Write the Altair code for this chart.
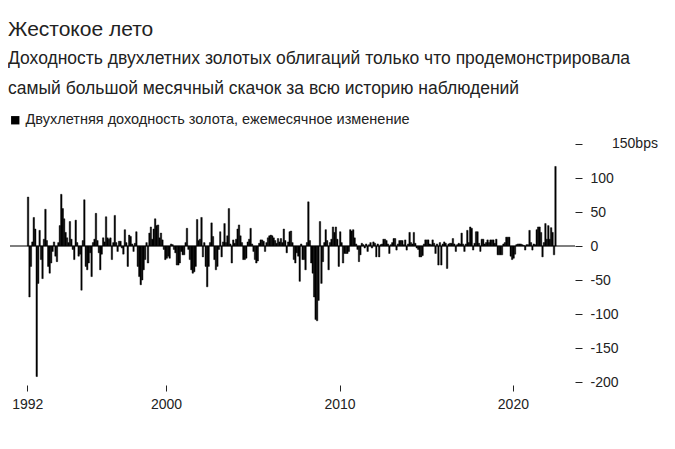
import altair as alt
import pandas as pd

title_text = "Жестокое лето"
subtitle_lines = [
    "Доходность двухлетних золотых облигаций только что продемонстрировала",
    "самый большой месячный скачок за всю историю наблюдений",
]
series_name = "Двухлетняя доходность золота, ежемесячное изменение"

# Monthly change, bps, one list per year
v1992 = [72, -75, -30, 6, 42, 25, -192, -55, 23, -20, -48, 10]
v1993 = [54, 8, -30, -40, -25, -8, 6, -15, -23, 5, 30, 76]
v1994 = [55, 40, 20, 12, 5, 36, 10, -5, -20, 38, 5, -15]
v1995 = [-12, -65, 8, 68, -30, -35, -25, -10, -45, 5, 10, 48]
v1996 = [8, -10, -35, -12, 12, 6, 43, 12, 10, 12, -20, 5]
v1997 = [45, 5, -8, 7, 7, -3, -12, 24, 5, -30, 16, 14]
v1998 = [3, -8, 4, 21, -30, -45, -57, -50, -35, -20, 5, -25]
v1999 = [19, 28, 10, 25, 40, 30, 31, 12, 19, 9, -5, -20]
v2000 = [-18, -15, -18, 3, 2, -5, -10, -28, -28, -25, -8, -13]
v2001 = [-13, 5, 26, -5, -20, -35, -40, -38, -30, 39, 8, 10]
v2002 = [42, -16, 5, -30, -60, -30, 5, 34, 14, -20, -35, -30]
v2003 = [-5, 21, -16, 6, 33, 5, 15, 55, 3, -25, 9, 4]
v2004 = [10, 25, 31, 15, 5, -20, -20, -18, 6, 10, 26, 3]
v2005 = [-8, -20, -25, -22, 4, 9, 9, 7, -8, 5, 12, 15]
v2006 = [16, 15, 12, 8, 4, 11, 6, 11, 5, 25, 8, -10]
v2007 = [6, 21, 22, 5, -20, -25, -10, -15, -52, 3, -20, -20]
v2008 = [-35, 5, 65, 8, -25, -40, -75, -108, -110, -80, 36, -55]
v2009 = [-23, 5, 24, 8, -35, 5, 10, 28, 20, 28, 10, -30]
v2010 = [21, 5, -25, -11, -11, -11, -8, 24, 22, 24, 12, 3]
v2011 = [-5, -23, -13, 4, 2, -3, 3, -8, 2, 5, -3, 6]
v2012 = [4, -16, 3, -16, 2, 3, 10, 10, 8, 3, -11, 2]
v2013 = [5, 11, 11, -6, 3, 8, 8, 8, 2, 9, -6, 3]
v2014 = [20, 5, 3, 20, 4, -3, -5, -16, -16, -14, 3, 9]
v2015 = [9, 9, 3, 2, 9, 4, -11, 3, -28, 5, -28, 3]
v2016 = [6, 4, -33, 3, 4, 4, 11, 3, -8, 2, 4, 3]
v2017 = [19, 3, -8, 3, 23, 5, 28, 26, -6, 4, 21, 21]
v2018 = [4, -8, 10, 10, 3, 5, 9, 5, 9, 9, 9, 4]
v2019 = [10, -13, -13, -13, -13, 3, 5, 13, 13, 13, -15, -20]
v2020 = [-18, -12, 2, 3, 3, 3, 2, 1, -6, 2, 2, 23]
v2021 = [5, -6, 3, 2, 24, 28, 28, 20, -16, 5, 33, 10]
v2022 = [30, 10, 27, 20, -13, 117]

yearly = [v1992, v1993, v1994, v1995, v1996, v1997, v1998, v1999, v2000, v2001,
          v2002, v2003, v2004, v2005, v2006, v2007, v2008, v2009, v2010, v2011,
          v2012, v2013, v2014, v2015, v2016, v2017, v2018, v2019, v2020, v2021, v2022]

y_ticks = [-200, -150, -100, -50, 0, 50, 100, 150]
x_tick_years = [1992, 2000, 2010, 2020]

rows = []
for i, vals in enumerate(yearly):
    yr = 1992 + i
    for m, v in enumerate(vals):
        ny, nm = (yr, m + 2) if m < 11 else (yr + 1, 1)
        rows.append({"start": f"{yr}-{m + 1:02d}-01", "end": f"{ny}-{nm:02d}-01",
                     "value": v, "series": series_name})
df = pd.DataFrame(rows)

FONT = "Liberation Sans, Arial, sans-serif"
W, H = 565, 238

xscale = alt.Scale(domain=[alt.DateTime(year=1991, month=1, date=1),
                           alt.DateTime(year=2023, month=8, date=1)])
yscale = alt.Scale(domain=[-200, 150])

yaxis = alt.Axis(orient="right", values=y_ticks, domain=False, grid=False,
                 tickSize=7, tickColor="#222", labelPadding=8, labelAlign="left",
                 labelFontSize=14, labelColor="#222", labelFont=FONT,
                 labelOverlap=False, labelBound=False, title=None,
                 labelExpr="datum.value == 150 ? '' : toString(datum.value)")

bars = alt.Chart(df).mark_bar(color="black", stroke="black", strokeWidth=0.45).encode(
    x=alt.X("start:T", scale=xscale, title=None,
            axis=alt.Axis(values=[alt.DateTime(year=y, month=1, date=1) for y in x_tick_years],
                          format="%Y", domain=False, grid=False, tickSize=6, tickColor="#222",
                          offset=3, labelPadding=6, labelFontSize=14, labelColor="#222",
                          labelFont=FONT, labelOverlap=False)),
    x2="end:T",
    y=alt.Y("value:Q", scale=yscale, title=None, axis=yaxis),
    y2=alt.datum(0),
    color=alt.Color("series:N", scale=alt.Scale(range=["black"]),
                    legend=alt.Legend(title=None, orient="none", legendX=-2, legendY=-31,
                                      symbolType="square", symbolSize=70, symbolStrokeWidth=0,
                                      labelFontSize=14.5, labelFont=FONT, labelColor="#222",
                                      labelOffset=3, labelLimit=0)),
)

zero = alt.Chart(pd.DataFrame({"y": [0]})).mark_rule(color="black", strokeWidth=1.2).encode(
    y=alt.Y("y:Q", scale=yscale, title=None, axis=yaxis)
)

top_label = alt.Chart(pd.DataFrame({"y": [150], "t": ["150bps"]})).mark_text(
    align="left", baseline="middle", fontSize=14, font=FONT, color="#222"
).encode(y=alt.Y("y:Q", scale=yscale, title=None, axis=yaxis), x=alt.value(W + 37), text="t:N")

chart = alt.layer(bars, zero, top_label).properties(
    width=W, height=H,
    title=alt.TitleParams(
        text=title_text, subtitle=subtitle_lines, anchor="start", frame="group",
        dx=-2, offset=16, font=FONT, fontSize=21, fontWeight="normal", color="#222",
        subtitleFont=FONT, subtitleFontSize=17.5, subtitleColor="#222",
        subtitleLineHeight=30, subtitlePadding=10,
    ),
    autosize=alt.AutoSizeParams(type="none"),
    padding={"left": 2, "top": 136, "right": 90, "bottom": 50},
).configure_view(stroke=None).configure_axis(labelOverlap=False)

chart.save("out.html", embed_options={"renderer": "svg", "actions": False})
